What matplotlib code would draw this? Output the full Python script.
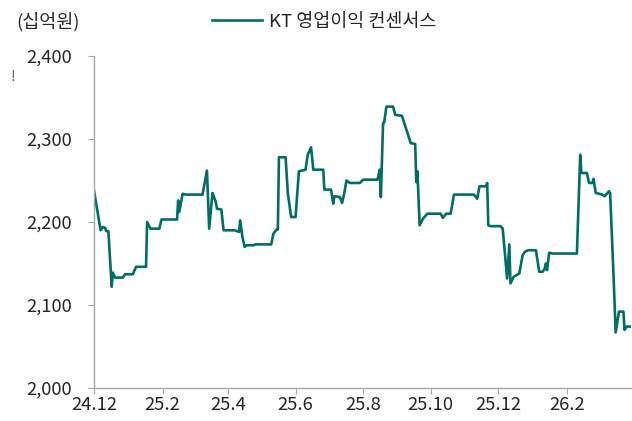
import pandas as pd
import matplotlib.pyplot as plt
import matplotlib.dates as mdates

plt.rcParams['font.family'] = ['Noto Sans CJK KR', 'DejaVu Sans']

# KT operating profit consensus (KRW bn)
dates = [
    '2024-12-01', '2024-12-07', '2024-12-09', '2024-12-11', '2024-12-12', '2024-12-14',
    '2024-12-17', '2024-12-18', '2024-12-20', '2024-12-27', '2024-12-29', '2025-01-05',
    '2025-01-08', '2025-01-17', '2025-01-18', '2025-01-21', '2025-01-29', '2025-01-31',
    '2025-02-14', '2025-02-15', '2025-02-16', '2025-02-19', '2025-02-22', '2025-03-09',
    '2025-03-13', '2025-03-15', '2025-03-18', '2025-03-21', '2025-03-22', '2025-03-26',
    '2025-03-28', '2025-04-07', '2025-04-11', '2025-04-12', '2025-04-14', '2025-04-16',
    '2025-04-18', '2025-04-24', '2025-04-26', '2025-05-10', '2025-05-12', '2025-05-15',
    '2025-05-16', '2025-05-17', '2025-05-23', '2025-05-25', '2025-05-28', '2025-06-01',
    '2025-06-04', '2025-06-10', '2025-06-12', '2025-06-15', '2025-06-17', '2025-06-26',
    '2025-06-27', '2025-07-03', '2025-07-05', '2025-07-06', '2025-07-11', '2025-07-13',
    '2025-07-15', '2025-07-17', '2025-07-20', '2025-07-29', '2025-08-01', '2025-08-14',
    '2025-08-16', '2025-08-17', '2025-08-19', '2025-08-20', '2025-08-22', '2025-08-28',
    '2025-08-30', '2025-09-05', '2025-09-13', '2025-09-17', '2025-09-18', '2025-09-19',
    '2025-09-21', '2025-09-24', '2025-09-28', '2025-10-10', '2025-10-12', '2025-10-15',
    '2025-10-19', '2025-10-22', '2025-10-25', '2025-11-09', '2025-11-12', '2025-11-14',
    '2025-11-20', '2025-11-21', '2025-11-22', '2025-11-24', '2025-12-03', '2025-12-05',
    '2025-12-09', '2025-12-11', '2025-12-12', '2025-12-15', '2025-12-20', '2025-12-23',
    '2025-12-25', '2025-12-28', '2026-01-04', '2026-01-07', '2026-01-10', '2026-01-12',
    '2026-01-13', '2026-01-14', '2026-01-16', '2026-01-19', '2026-02-10', '2026-02-13',
    '2026-02-14', '2026-02-19', '2026-02-21', '2026-02-24', '2026-02-25', '2026-02-27',
    '2026-03-05', '2026-03-07', '2026-03-11', '2026-03-12', '2026-03-15', '2026-03-17',
    '2026-03-20', '2026-03-24', '2026-03-25', '2026-03-27', '2026-03-30',
]
consensus = [
    2238, 2190, 2194, 2193, 2189, 2189,
    2122, 2139, 2133, 2133, 2137, 2137,
    2146, 2146, 2200, 2192, 2192, 2203,
    2203, 2226, 2212, 2234, 2233, 2233,
    2262, 2192, 2235, 2224, 2216, 2215,
    2190, 2190, 2188, 2202, 2182, 2170,
    2172, 2172, 2173, 2173, 2186, 2191,
    2191, 2278, 2278, 2235, 2206, 2206,
    2261, 2263, 2281, 2290, 2263, 2263,
    2239, 2239, 2222, 2231, 2230, 2223,
    2235, 2250, 2247, 2247, 2251, 2251,
    2263, 2230, 2319, 2320, 2339, 2339,
    2329, 2328, 2295, 2294, 2248, 2261,
    2196, 2204, 2210, 2210, 2205, 2210,
    2210, 2233, 2233, 2233, 2228, 2243,
    2243, 2247, 2196, 2195, 2195, 2192,
    2132, 2173, 2126, 2134, 2138, 2160,
    2164, 2166, 2166, 2140, 2140, 2144,
    2150, 2142, 2163, 2162, 2162, 2281,
    2259, 2259, 2247, 2247, 2252, 2235,
    2233, 2231, 2237, 2235, 2138, 2067,
    2092, 2092, 2070, 2074, 2074,
]
tick_dates = ['2024-12-01', '2025-02-01', '2025-04-01', '2025-06-01', '2025-08-01',
              '2025-10-01', '2025-12-01', '2026-02-01']
tick_labels = ['24.12', '25.2', '25.4', '25.6', '25.8', '25.10', '25.12', '26.2']
y_ticks = [2000, 2100, 2200, 2300, 2400]

df = pd.DataFrame({'date': pd.to_datetime(dates), 'value': consensus})

fig = plt.figure(figsize=(6.32, 4.21), dpi=100)
ax = fig.add_axes([0.1487, 0.0784, 0.85, 0.7886])

line_color = '#006e64'
text_color = '#262626'
axis_color = '#a6a6a6'
fs = 13.3

ax.plot(df['date'], df['value'], color=line_color, lw=1.9, label='KT 영업이익 컨센서스')

ax.set_xlim(pd.Timestamp('2024-12-01'), pd.Timestamp('2026-03-31'))
ax.set_ylim(2000, 2400)
ax.set_yticks(y_ticks)
ax.set_yticklabels([f'{v:,}' for v in y_ticks])
ax.set_xticks(pd.to_datetime(tick_dates))
ax.set_xticklabels(tick_labels)

for s in ['top', 'right']:
    ax.spines[s].set_visible(False)
for s in ['left', 'bottom']:
    ax.spines[s].set_color(axis_color)
    ax.spines[s].set_linewidth(1.0)

ax.tick_params(axis='y', length=4.5, color=axis_color, pad=11, labelsize=fs, labelcolor=text_color)
ax.tick_params(axis='x', length=4, color=axis_color, pad=2, labelsize=fs, labelcolor=text_color)
for lab in ax.get_xticklabels() + ax.get_yticklabels():
    lab.set_fontweight('light')

fig.text(0.026, 0.948, '(십억원)', fontsize=fs, color=text_color, va='center', ha='left',
         fontweight='light')
fig.text(0.017, 0.817, '!', fontsize=10, color='#555555', va='center', ha='left',
         fontweight='light')

leg = fig.legend(loc='center left', bbox_to_anchor=(0.321, 0.948), frameon=False,
                 fontsize=fs, handlelength=2.7, handletextpad=0.4, borderpad=0,
                 labelcolor=text_color)
for t in leg.get_texts():
    t.set_fontweight('light')

fig.savefig('out.png', dpi=100)
